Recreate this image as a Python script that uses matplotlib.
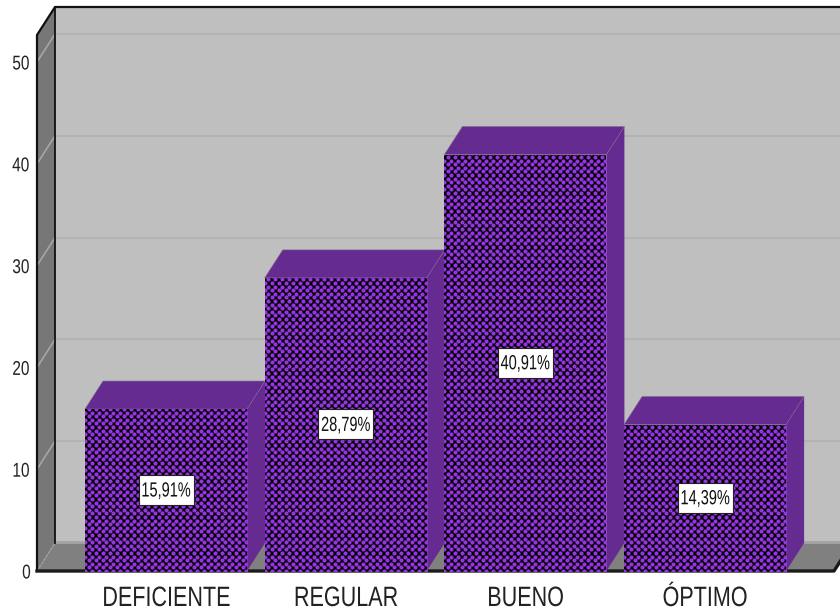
import numpy as np
import matplotlib
matplotlib.use("Agg")
import matplotlib.pyplot as plt
from matplotlib.patches import Polygon, Rectangle
from matplotlib.patheffects import AbstractPathEffect
from matplotlib.transforms import Affine2D

categories = ["DEFICIENTE", "REGULAR", "BUENO", "ÓPTIMO"]
percent = [15.91, 28.79, 40.91, 14.39]
percent_labels = ["15,91%", "28,79%", "40,91%", "14,39%"]
y_ticks = [0, 10, 20, 30, 40, 50]

W, H = 840, 614
DPI = 100
LEFT, BASE = 37, 571      # pixel position of the front corner of the box
UNIT_X, UNIT_Y = 179.7, 10.18   # pixels per category / per y unit
X0 = 166                  # pixel centre of the first bar
BAR_W = 162 / UNIT_X
DX, DY = 18 / UNIT_X, 28 / UNIT_Y   # depth of the 3d box
TOP = (BASE - 35) / UNIT_Y

PURPLE = "#662b91"
DOT = "#9534e0"

plt.rcParams["font.family"] = ["Liberation Sans", "DejaVu Sans"]


def px(size):
    return size * 72 / DPI


class Narrow(AbstractPathEffect):
    # squeezes a text horizontally around its own centre
    def __init__(self, factor):
        super().__init__()
        self.factor = factor

    def draw_path(self, renderer, gc, tpath, affine, rgbFace=None):
        box = tpath.get_extents(affine)
        cx = (box.x0 + box.x1) / 2
        squeeze = Affine2D().translate(-cx, 0).scale(self.factor, 1).translate(cx, 0)
        renderer.draw_path(gc, tpath, affine + squeeze, rgbFace)


fig = plt.figure(figsize=(W / DPI, H / DPI), dpi=DPI, facecolor="white")
ax = fig.add_axes([LEFT / W, (H - BASE) / H, (W - LEFT) / W, BASE / H])
ax.set_xlim((LEFT - X0) / UNIT_X, (W - X0) / UNIT_X)
ax.set_ylim(0, BASE / UNIT_Y)
ax.patch.set_visible(False)
for s in ax.spines.values():
    s.set_visible(False)

x_l = ax.get_xlim()[0]
x_f = x_l + 797 / UNIT_X
x_r = x_l + 804 / UNIT_X + 0.2

# walls and floor
ax.add_patch(Polygon([(x_l + DX, DY), (x_r, DY), (x_r, TOP + DY), (x_l + DX, TOP + DY)],
                     fc="#bfbfbf", ec="none", zorder=1))
ax.add_patch(Polygon([(x_l, 0), (x_l + DX, DY), (x_l + DX, TOP + DY), (x_l, TOP)],
                     fc="#777777", ec="none", zorder=1))
ax.add_patch(Polygon([(x_l, 0), (x_l + DX, DY), (x_f + DX, DY), (x_f, 0)],
                     fc="#808080", ec="none", zorder=1))

# gridlines run along the back wall and fold down the side wall
for t in y_ticks:
    if t > 0:
        ax.plot([x_l + DX, x_r], [t + DY, t + DY], color="#b3b3b3", lw=1.5, zorder=2)
        ax.plot([x_l, x_l + DX], [t, t + DY], color="#a6a6a6", lw=1.2, zorder=2)
ax.plot([x_l + DX, x_r], [DY + 0.1, DY + 0.1], color="#a3a3a3", lw=2, zorder=2)
ax.plot([x_l, x_l + DX], [0, DY], color="#a0a0a0", lw=1, ls=(0, (2, 1)), zorder=2)

# box outline
ax.plot([x_l, x_l, x_l + DX, x_r], [0, TOP, TOP + DY, TOP + DY], color="#111111", lw=1.6,
        clip_on=False, zorder=3)
ax.plot([x_l + DX, x_l + DX], [DY, TOP + DY], color="#111111", lw=1.3, zorder=3)
ax.plot([x_l, x_f, x_f + DX], [0, 0, DY], color="#1a1a1a", lw=2.4,
        clip_on=False, zorder=3)

# bars
xpos = np.arange(len(categories))
bars = ax.bar(xpos, percent, width=BAR_W, color="black", linewidth=0, zorder=5)
for i, (bar, v) in enumerate(zip(bars, percent)):
    x1 = i - BAR_W / 2
    x2 = i + BAR_W / 2
    ax.add_patch(Polygon([(x2, 0), (x2 + DX, DY), (x2 + DX, v + DY), (x2, v)],
                         fc=PURPLE, ec="none", zorder=4))
    ax.add_patch(Polygon([(x1, v), (x1 + DX, v + DY), (x2 + DX, v + DY), (x2, v)],
                         fc=PURPLE, ec="#7d6a8c", lw=0.4, zorder=4))
    # dotted fill of the front face
    step_x = 7 / UNIT_X
    step_y = 3.6 / UNIT_Y
    rows = np.arange(0, v + step_y, step_y)
    dots_x, dots_y = [], []
    for r, yy in enumerate(rows):
        cols = np.arange(x1 + (step_x / 2 if r % 2 else 0), x2 + step_x, step_x)
        dots_x.extend(cols)
        dots_y.extend([yy] * len(cols))
    pts = ax.scatter(dots_x, dots_y, s=px(4.2) ** 2, color=DOT, linewidths=0, zorder=6)
    pts.set_clip_path(bar)
    # value label in a small white box
    ax.add_patch(Rectangle((i - 27.5 / UNIT_X, v / 2 - 15 / UNIT_Y), 55 / UNIT_X, 30 / UNIT_Y,
                           fc="white", ec="#222222", lw=0.8, zorder=7))
    ax.text(i, v / 2 - 1 / UNIT_Y, percent_labels[i], ha="center", va="center", fontsize=px(20.5),
            color="#111111", zorder=8, path_effects=[Narrow(0.71)])

ax.set_xticks(xpos, categories)
ax.set_yticks(y_ticks)
ax.tick_params(axis="x", length=0, pad=px(15), labelsize=px(28), labelcolor="#222222")
ax.tick_params(axis="y", length=0, pad=px(5), labelsize=px(20), labelcolor="#222222")
for lab in ax.get_xticklabels():
    lab.set_path_effects([Narrow(0.77)])
for lab in ax.get_yticklabels():
    lab.set_path_effects([Narrow(0.77)])

fig.savefig("out.png", dpi=DPI)
